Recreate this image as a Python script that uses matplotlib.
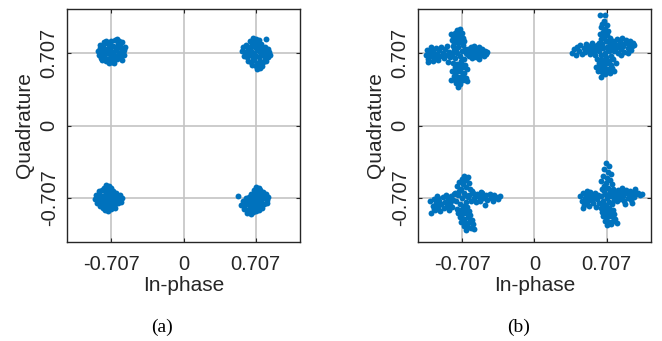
import numpy as np
import matplotlib
matplotlib.use("Agg")
import matplotlib.pyplot as plt

plt.rcParams['font.family'] = ['Liberation Sans', 'DejaVu Sans']

# (a) received constellation - compact clusters
a_tl_i = [-0.84, -0.83, -0.82, -0.81, -0.80, -0.79, -0.78, -0.77, -0.76, -0.75, -0.74, -0.73, -0.72,
          -0.71, -0.71, -0.70, -0.69, -0.68, -0.67, -0.66, -0.65, -0.64, -0.63, -0.62, -0.61, -0.60,
          -0.59, -0.58, -0.57, -0.80, -0.76, -0.68, -0.63, -0.82, -0.60, -0.73, -0.65, -0.78, -0.58,
          -0.71, -0.75, -0.67, -0.77, -0.69, -0.65, -0.72, -0.62, -0.80, -0.66, -0.74]
a_tl_q = [0.73, 0.69, 0.76, 0.66, 0.72, 0.79, 0.68, 0.75, 0.63, 0.81, 0.71, 0.77, 0.66,
          0.83, 0.73, 0.62, 0.78, 0.69, 0.84, 0.74, 0.65, 0.80, 0.71, 0.67, 0.76, 0.82,
          0.72, 0.69, 0.77, 0.64, 0.83, 0.61, 0.83, 0.79, 0.64, 0.61, 0.85, 0.82, 0.74,
          0.68, 0.74, 0.65, 0.70, 0.72, 0.76, 0.79, 0.79, 0.76, 0.68, 0.65]

a_tr_i = [0.68, 0.71, 0.74, 0.65, 0.72, 0.69, 0.76, 0.81, 0.58, 0.61, 0.63, 0.66, 0.70, 0.74, 0.77,
          0.80, 0.83, 0.57, 0.60, 0.63, 0.66, 0.69, 0.72, 0.75, 0.78, 0.81, 0.84, 0.85, 0.59, 0.62,
          0.65, 0.68, 0.71, 0.74, 0.77, 0.80, 0.83, 0.63, 0.66, 0.69, 0.72, 0.75, 0.78, 0.81, 0.67,
          0.71, 0.74, 0.77, 0.72, 0.75]
a_tr_q = [0.86, 0.85, 0.84, 0.83, 0.81, 0.82, 0.80, 0.85, 0.77, 0.79, 0.76, 0.78, 0.77, 0.78, 0.76,
          0.77, 0.75, 0.73, 0.72, 0.71, 0.73, 0.71, 0.74, 0.72, 0.73, 0.71, 0.72, 0.69, 0.68, 0.67,
          0.69, 0.66, 0.68, 0.67, 0.69, 0.66, 0.67, 0.63, 0.62, 0.64, 0.61, 0.63, 0.62, 0.63, 0.59,
          0.58, 0.59, 0.58, 0.55, 0.56]

a_bl_i = [-0.76, -0.73, -0.78, -0.74, -0.71, -0.83, -0.80, -0.76, -0.72, -0.69, -0.66, -0.86, -0.83,
          -0.80, -0.77, -0.74, -0.71, -0.68, -0.65, -0.62, -0.87, -0.84, -0.81, -0.78, -0.75, -0.72,
          -0.69, -0.66, -0.63, -0.60, -0.85, -0.82, -0.79, -0.76, -0.73, -0.70, -0.67, -0.64, -0.61,
          -0.82, -0.79, -0.76, -0.73, -0.70, -0.67, -0.77, -0.74, -0.71]
a_bl_q = [-0.58, -0.59, -0.61, -0.62, -0.61, -0.64, -0.63, -0.65, -0.65, -0.64, -0.66, -0.68, -0.67,
          -0.69, -0.68, -0.69, -0.68, -0.70, -0.69, -0.68, -0.72, -0.71, -0.73, -0.71, -0.72, -0.73,
          -0.71, -0.72, -0.73, -0.71, -0.76, -0.75, -0.77, -0.75, -0.76, -0.75, -0.77, -0.76, -0.75,
          -0.79, -0.81, -0.79, -0.80, -0.79, -0.81, -0.83, -0.84, -0.82]

a_br_i = [0.53, 0.71, 0.74, 0.69, 0.72, 0.75, 0.78, 0.66, 0.69, 0.72, 0.75, 0.78, 0.81, 0.83, 0.61,
          0.64, 0.67, 0.70, 0.73, 0.76, 0.79, 0.82, 0.58, 0.61, 0.64, 0.67, 0.70, 0.73, 0.76, 0.79,
          0.82, 0.56, 0.59, 0.62, 0.65, 0.68, 0.71, 0.74, 0.77, 0.59, 0.62, 0.65, 0.68, 0.71, 0.74,
          0.62, 0.66, 0.68]
a_br_q = [-0.69, -0.60, -0.61, -0.63, -0.64, -0.63, -0.65, -0.67, -0.67, -0.68, -0.67, -0.68, -0.67,
          -0.70, -0.71, -0.70, -0.71, -0.72, -0.71, -0.72, -0.71, -0.73, -0.74, -0.75, -0.73, -0.75,
          -0.74, -0.76, -0.75, -0.77, -0.76, -0.78, -0.79, -0.77, -0.79, -0.78, -0.80, -0.79, -0.81,
          -0.82, -0.83, -0.82, -0.83, -0.84, -0.83, -0.86, -0.87, -0.85]

# (b) received constellation - cross shaped clusters
b_tl_i = [-1.06, -1.05, -1.04, -1.02, -1.01, -1.00, -0.99, -0.98, -0.97, -0.96, -0.95, -0.94, -0.93,
          -0.92, -0.91, -0.90, -0.89, -0.88, -0.87, -0.86, -0.85, -0.84, -0.83, -1.04, -1.01,
          -0.65, -0.64, -0.63, -0.62, -0.61, -0.60, -0.59, -0.58, -0.57, -0.56, -0.55, -0.54, -0.53,
          -0.52, -0.51, -0.50, -0.49, -0.48, -0.47, -0.46, -0.59, -0.54,
          -0.81, -0.79, -0.78, -0.76, -0.75, -0.73, -0.71, -0.69, -0.68, -0.66, -0.80, -0.70, -0.72,
          -0.67, -0.77,
          -0.79, -0.75, -0.71, -0.81, -0.77, -0.73, -0.70, -0.80, -0.76, -0.72, -0.78, -0.74, -0.71,
          -0.76, -0.73, -0.82, -0.69,
          -0.80, -0.76, -0.72, -0.68, -0.78, -0.74, -0.70, -0.66, -0.81, -0.77, -0.73, -0.69, -0.79,
          -0.75, -0.71, -0.67, -0.82, -0.78, -0.74, -0.70, -0.77, -0.73, -0.75, -0.66]
b_tl_q = [0.69, 0.74, 0.65, 0.72, 0.68, 0.75, 0.63, 0.71, 0.67, 0.76, 0.70, 0.64, 0.74,
          0.68, 0.77, 0.71, 0.66, 0.75, 0.69, 0.78, 0.62, 0.72, 0.67, 0.62, 0.77,
          0.75, 0.68, 0.72, 0.77, 0.66, 0.73, 0.70, 0.76, 0.67, 0.71, 0.74, 0.65, 0.73,
          0.69, 0.75, 0.71, 0.68, 0.73, 0.70, 0.72, 0.78, 0.77,
          0.70, 0.74, 0.66, 0.71, 0.77, 0.68, 0.73, 0.65, 0.75, 0.70, 0.78, 0.79, 0.63,
          0.71, 0.73,
          0.81, 0.82, 0.81, 0.84, 0.85, 0.84, 0.86, 0.88, 0.89, 0.88, 0.91, 0.92, 0.91,
          0.94, 0.95, 0.90, 0.83,
          0.61, 0.60, 0.61, 0.59, 0.57, 0.56, 0.57, 0.55, 0.53, 0.52, 0.53, 0.51, 0.49,
          0.48, 0.49, 0.47, 0.45, 0.45, 0.44, 0.45, 0.42, 0.41, 0.38, 0.44]

b_tr_i = [0.64, 0.69, 0.68, 0.66, 0.71, 0.65, 0.69, 0.72, 0.67, 0.64, 0.71, 0.68, 0.74, 0.65, 0.70,
          0.73, 0.63,
          0.37, 0.39, 0.41, 0.42, 0.44, 0.45, 0.46, 0.48, 0.49, 0.50, 0.51, 0.53, 0.54, 0.55, 0.56,
          0.57, 0.58, 0.59, 0.60, 0.61,
          0.76, 0.77, 0.78, 0.79, 0.80, 0.81, 0.82, 0.83, 0.84, 0.85, 0.86, 0.87, 0.88, 0.89, 0.90,
          0.91, 0.92, 0.93, 0.94, 0.95, 0.96, 0.97, 0.85, 0.91,
          0.63, 0.65, 0.67, 0.69, 0.71, 0.73, 0.75, 0.66, 0.74, 0.70, 0.72, 0.64,
          0.61, 0.65, 0.69, 0.73, 0.77, 0.63, 0.67, 0.71, 0.75, 0.80, 0.60, 0.64, 0.68, 0.72, 0.76,
          0.62, 0.66, 0.70, 0.74, 0.65, 0.69, 0.78]
b_tr_q = [1.08, 1.08, 1.02, 0.99, 0.98, 0.96, 0.95, 0.93, 0.92, 0.90, 0.89, 0.87, 0.86, 0.85, 0.83,
          0.82, 0.81,
          0.71, 0.75, 0.69, 0.77, 0.73, 0.79, 0.70, 0.76, 0.72, 0.80, 0.74, 0.78, 0.70, 0.75, 0.81,
          0.72, 0.77, 0.69, 0.74, 0.79,
          0.77, 0.83, 0.73, 0.80, 0.76, 0.85, 0.71, 0.79, 0.82, 0.75, 0.86, 0.78, 0.72, 0.81, 0.84,
          0.76, 0.80, 0.83, 0.74, 0.78, 0.81, 0.79, 0.69, 0.71,
          0.73, 0.69, 0.76, 0.71, 0.77, 0.73, 0.68, 0.80, 0.79, 0.67, 0.74, 0.77,
          0.65, 0.64, 0.65, 0.63, 0.65, 0.61, 0.60, 0.61, 0.59, 0.61, 0.57, 0.56, 0.57, 0.55, 0.56,
          0.53, 0.52, 0.53, 0.51, 0.48, 0.50, 0.53]

b_bl_i = [-0.69, -0.65, -0.71, -0.67, -0.74, -0.64, -0.70, -0.76, -0.67, -0.72, -0.63,
          -1.02, -1.01, -0.99, -0.98, -0.97, -0.96, -0.95, -0.94, -0.93, -0.92, -0.91, -0.90, -0.89,
          -0.88, -0.87, -0.86, -0.85, -0.84, -0.83, -0.82, -0.81, -0.80, -0.79, -0.98, -0.94,
          -0.64, -0.62, -0.60, -0.59, -0.57, -0.56, -0.54, -0.53, -0.51, -0.50, -0.48, -0.47, -0.46,
          -0.44, -0.43, -0.41, -0.40, -0.38, -0.36, -0.34, -0.61, -0.52,
          -0.77, -0.75, -0.73, -0.71, -0.69, -0.67, -0.65, -0.74, -0.70, -0.66, -0.78, -0.68,
          -0.76, -0.72, -0.68, -0.64, -0.75, -0.71, -0.67, -0.63, -0.73, -0.69, -0.65, -0.61, -0.72,
          -0.68, -0.64, -0.60, -0.69, -0.65, -0.62, -0.67, -0.59]
b_bl_q = [-0.49, -0.50, -0.52, -0.53, -0.55, -0.56, -0.57, -0.59, -0.60, -0.62, -0.62,
          -0.74, -0.86, -0.79, -0.72, -0.83, -0.76, -0.69, -0.80, -0.74, -0.84, -0.77, -0.70, -0.81,
          -0.75, -0.68, -0.79, -0.72, -0.83, -0.76, -0.69, -0.80, -0.73, -0.67, -0.82, -0.71,
          -0.68, -0.74, -0.66, -0.71, -0.75, -0.67, -0.70, -0.74, -0.66, -0.71, -0.78, -0.68, -0.73,
          -0.67, -0.71, -0.74, -0.68, -0.70, -0.72, -0.69, -0.64, -0.65,
          -0.74, -0.68, -0.77, -0.71, -0.66, -0.75, -0.70, -0.64, -0.79, -0.80, -0.66, -0.68,
          -0.82, -0.83, -0.82, -0.84, -0.86, -0.87, -0.86, -0.88, -0.90, -0.91, -0.90, -0.92, -0.94,
          -0.95, -0.94, -0.96, -0.98, -0.99, -1.00, -1.02, -1.01]

b_br_i = [0.70, 0.73, 0.68, 0.72, 0.75, 0.67, 0.71, 0.74, 0.65, 0.70, 0.76, 0.68, 0.72, 0.77, 0.66,
          0.45, 0.46, 0.47, 0.48, 0.49, 0.50, 0.51, 0.52, 0.53, 0.54, 0.55, 0.56, 0.57, 0.58, 0.59,
          0.60, 0.61, 0.62, 0.63, 0.47, 0.51,
          0.77, 0.78, 0.79, 0.80, 0.81, 0.82, 0.83, 0.84, 0.85, 0.86, 0.87, 0.88, 0.89, 0.90, 0.91,
          0.92, 0.93, 0.94, 0.95, 0.96, 0.97, 0.98, 0.99, 1.01, 1.03, 1.05, 0.95, 0.89,
          0.65, 0.67, 0.69, 0.71, 0.73, 0.75, 0.70, 0.74, 0.76, 0.66, 0.72, 0.68,
          0.65, 0.69, 0.73, 0.77, 0.66, 0.70, 0.74, 0.78, 0.67, 0.71, 0.75, 0.79, 0.69, 0.73, 0.77,
          0.71, 0.75, 0.81]
b_br_q = [-0.37, -0.40, -0.43, -0.45, -0.47, -0.49, -0.51, -0.53, -0.54, -0.56, -0.57, -0.59, -0.61,
          -0.62, -0.62,
          -0.69, -0.74, -0.66, -0.78, -0.71, -0.67, -0.75, -0.70, -0.79, -0.65, -0.73, -0.68, -0.76,
          -0.71, -0.66, -0.80, -0.72, -0.68, -0.76, -0.81, -0.64,
          -0.67, -0.73, -0.65, -0.70, -0.74, -0.63, -0.68, -0.72, -0.65, -0.61, -0.69, -0.74, -0.66,
          -0.63, -0.71, -0.67, -0.64, -0.73, -0.68, -0.65, -0.70, -0.62, -0.67, -0.66, -0.68, -0.67,
          -0.76, -0.77,
          -0.69, -0.74, -0.67, -0.71, -0.75, -0.69, -0.78, -0.65, -0.77, -0.77, -0.68, -0.64,
          -0.81, -0.82, -0.81, -0.83, -0.85, -0.86, -0.85, -0.87, -0.89, -0.90, -0.89, -0.91, -0.93,
          -0.94, -0.93, -0.97, -0.96, -0.95]

ticks = [-0.707, 0, 0.707]
tick_labels = ['-0.707', '0', '0.707']
captions = ['(a)', '(b)']

panels = [
    [(a_tl_i, a_tl_q), (a_tr_i, a_tr_q), (a_bl_i, a_bl_q), (a_br_i, a_br_q)],
    [(b_tl_i, b_tl_q), (b_tr_i, b_tr_q), (b_bl_i, b_bl_q), (b_br_i, b_br_q)],
]

fig = plt.figure(figsize=(6.62, 3.41), dpi=100)
axes_pos = [[0.1012, 0.2903, 0.352, 0.683], [0.6314, 0.2903, 0.352, 0.683]]
caption_x = [162 / 662, 519 / 662]

for k in range(2):
    ax = fig.add_axes(axes_pos[k])
    for ii, qq in panels[k]:
        ax.scatter(ii, qq, s=18, color='#0072BD', linewidths=0, zorder=3)
    ax.set_xlim(-1.14, 1.14)
    ax.set_ylim(-1.14, 1.14)
    ax.set_xticks(ticks)
    ax.set_yticks(ticks)
    ax.set_xticklabels(tick_labels, fontsize=14.5)
    ax.set_yticklabels(tick_labels, fontsize=14.5, rotation=90, va='center')
    ax.grid(True, color='#c4c4c4', linewidth=1.2, zorder=0)
    ax.set_axisbelow(True)
    ax.tick_params(direction='in', top=True, right=True, length=3, width=0.8,
                   colors='#262626', labelcolor='#262626')
    ax.tick_params(axis='x', pad=9)
    ax.tick_params(axis='y', pad=6)
    for sp in ax.spines.values():
        sp.set_color('#262626')
        sp.set_linewidth(1.0)
    ax.set_xlabel('In-phase', fontsize=15, color='#262626', labelpad=2)
    ax.set_ylabel('Quadrature', fontsize=15, color='#262626', labelpad=4)
    fig.text(caption_x[k], 1 - 327 / 341, captions[k], ha='center', va='center',
             fontsize=14, family='Liberation Serif')

fig.savefig('out.png', dpi=100)
